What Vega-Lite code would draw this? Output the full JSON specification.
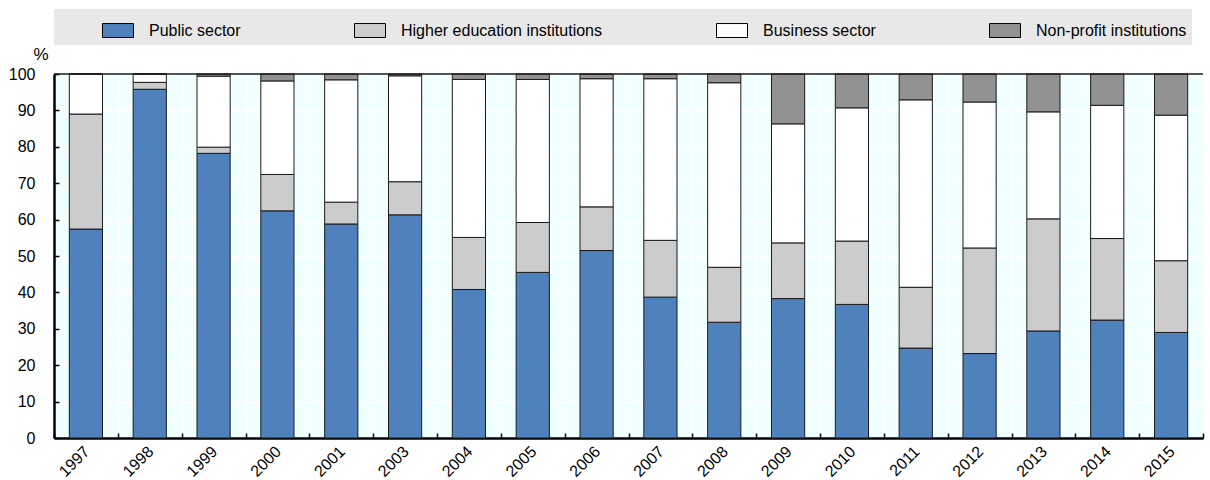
{
  "$schema": "https://vega.github.io/schema/vega-lite/v6.json",
  "autosize": "none",
  "width": 1149,
  "height": 364,
  "padding": {"left": 54, "top": 74, "right": 7, "bottom": 42},
  "background": "#ffffff",
  "config": {
    "font": "Liberation Sans, Arial, sans-serif",
    "view": {"stroke": null, "fill": "#f0ffff"},
    "axis": {
      "labelFont": "Liberation Sans, Arial, sans-serif",
      "labelFontSize": 16,
      "labelColor": "#000000",
      "titleFont": "Liberation Sans, Arial, sans-serif",
      "titleFontSize": 17,
      "titleFontWeight": "normal",
      "titleColor": "#000000",
      "domainColor": "#000000",
      "domainWidth": 2,
      "tickColor": "#000000",
      "tickWidth": 1.5,
      "gridColor": "#ffffff",
      "gridWidth": 1.5,
      "gridOpacity": 1
    },
    "legend": {
      "labelFont": "Liberation Sans, Arial, sans-serif",
      "labelFontSize": 16,
      "labelColor": "#000000",
      "titleFontSize": 16
    }
  },
  "data": {
    "values": [
      {"year": "1997", "sector": "Public sector", "value": 57.4, "k": 1},
      {"year": "1997", "sector": "Higher education institutions", "value": 31.6, "k": 2},
      {"year": "1997", "sector": "Business sector", "value": 11.0, "k": 3},
      {"year": "1997", "sector": "Non-profit institutions", "value": 0.0, "k": 4},
      {"year": "1998", "sector": "Public sector", "value": 95.8, "k": 1},
      {"year": "1998", "sector": "Higher education institutions", "value": 1.9, "k": 2},
      {"year": "1998", "sector": "Business sector", "value": 2.3, "k": 3},
      {"year": "1998", "sector": "Non-profit institutions", "value": 0.0, "k": 4},
      {"year": "1999", "sector": "Public sector", "value": 78.2, "k": 1},
      {"year": "1999", "sector": "Higher education institutions", "value": 1.7, "k": 2},
      {"year": "1999", "sector": "Business sector", "value": 19.5, "k": 3},
      {"year": "1999", "sector": "Non-profit institutions", "value": 0.6, "k": 4},
      {"year": "2000", "sector": "Public sector", "value": 62.4, "k": 1},
      {"year": "2000", "sector": "Higher education institutions", "value": 10.0, "k": 2},
      {"year": "2000", "sector": "Business sector", "value": 25.7, "k": 3},
      {"year": "2000", "sector": "Non-profit institutions", "value": 1.9, "k": 4},
      {"year": "2001", "sector": "Public sector", "value": 58.8, "k": 1},
      {"year": "2001", "sector": "Higher education institutions", "value": 6.0, "k": 2},
      {"year": "2001", "sector": "Business sector", "value": 33.6, "k": 3},
      {"year": "2001", "sector": "Non-profit institutions", "value": 1.6, "k": 4},
      {"year": "2003", "sector": "Public sector", "value": 61.3, "k": 1},
      {"year": "2003", "sector": "Higher education institutions", "value": 9.1, "k": 2},
      {"year": "2003", "sector": "Business sector", "value": 29.1, "k": 3},
      {"year": "2003", "sector": "Non-profit institutions", "value": 0.5, "k": 4},
      {"year": "2004", "sector": "Public sector", "value": 40.8, "k": 1},
      {"year": "2004", "sector": "Higher education institutions", "value": 14.3, "k": 2},
      {"year": "2004", "sector": "Business sector", "value": 43.4, "k": 3},
      {"year": "2004", "sector": "Non-profit institutions", "value": 1.5, "k": 4},
      {"year": "2005", "sector": "Public sector", "value": 45.5, "k": 1},
      {"year": "2005", "sector": "Higher education institutions", "value": 13.7, "k": 2},
      {"year": "2005", "sector": "Business sector", "value": 39.3, "k": 3},
      {"year": "2005", "sector": "Non-profit institutions", "value": 1.5, "k": 4},
      {"year": "2006", "sector": "Public sector", "value": 51.5, "k": 1},
      {"year": "2006", "sector": "Higher education institutions", "value": 12.0, "k": 2},
      {"year": "2006", "sector": "Business sector", "value": 35.2, "k": 3},
      {"year": "2006", "sector": "Non-profit institutions", "value": 1.3, "k": 4},
      {"year": "2007", "sector": "Public sector", "value": 38.7, "k": 1},
      {"year": "2007", "sector": "Higher education institutions", "value": 15.6, "k": 2},
      {"year": "2007", "sector": "Business sector", "value": 44.4, "k": 3},
      {"year": "2007", "sector": "Non-profit institutions", "value": 1.3, "k": 4},
      {"year": "2008", "sector": "Public sector", "value": 31.8, "k": 1},
      {"year": "2008", "sector": "Higher education institutions", "value": 15.1, "k": 2},
      {"year": "2008", "sector": "Business sector", "value": 50.7, "k": 3},
      {"year": "2008", "sector": "Non-profit institutions", "value": 2.4, "k": 4},
      {"year": "2009", "sector": "Public sector", "value": 38.3, "k": 1},
      {"year": "2009", "sector": "Higher education institutions", "value": 15.3, "k": 2},
      {"year": "2009", "sector": "Business sector", "value": 32.7, "k": 3},
      {"year": "2009", "sector": "Non-profit institutions", "value": 13.7, "k": 4},
      {"year": "2010", "sector": "Public sector", "value": 36.7, "k": 1},
      {"year": "2010", "sector": "Higher education institutions", "value": 17.4, "k": 2},
      {"year": "2010", "sector": "Business sector", "value": 36.6, "k": 3},
      {"year": "2010", "sector": "Non-profit institutions", "value": 9.3, "k": 4},
      {"year": "2011", "sector": "Public sector", "value": 24.7, "k": 1},
      {"year": "2011", "sector": "Higher education institutions", "value": 16.7, "k": 2},
      {"year": "2011", "sector": "Business sector", "value": 51.5, "k": 3},
      {"year": "2011", "sector": "Non-profit institutions", "value": 7.1, "k": 4},
      {"year": "2012", "sector": "Public sector", "value": 23.2, "k": 1},
      {"year": "2012", "sector": "Higher education institutions", "value": 29.0, "k": 2},
      {"year": "2012", "sector": "Business sector", "value": 40.1, "k": 3},
      {"year": "2012", "sector": "Non-profit institutions", "value": 7.7, "k": 4},
      {"year": "2013", "sector": "Public sector", "value": 29.4, "k": 1},
      {"year": "2013", "sector": "Higher education institutions", "value": 30.8, "k": 2},
      {"year": "2013", "sector": "Business sector", "value": 29.4, "k": 3},
      {"year": "2013", "sector": "Non-profit institutions", "value": 10.4, "k": 4},
      {"year": "2014", "sector": "Public sector", "value": 32.4, "k": 1},
      {"year": "2014", "sector": "Higher education institutions", "value": 22.4, "k": 2},
      {"year": "2014", "sector": "Business sector", "value": 36.6, "k": 3},
      {"year": "2014", "sector": "Non-profit institutions", "value": 8.6, "k": 4},
      {"year": "2015", "sector": "Public sector", "value": 29.0, "k": 1},
      {"year": "2015", "sector": "Higher education institutions", "value": 19.7, "k": 2},
      {"year": "2015", "sector": "Business sector", "value": 40.0, "k": 3},
      {"year": "2015", "sector": "Non-profit institutions", "value": 11.3, "k": 4}
    ]
  },
  "layer": [
    {
      "mark": {"type": "bar", "width": {"band": 0.52}, "stroke": "#1a1a1a", "strokeWidth": 1},
      "encoding": {
        "x": {
          "field": "year",
          "type": "nominal",
          "sort": null,
          "scale": {"paddingInner": 0, "paddingOuter": 0},
          "axis": {
            "title": null,
            "labelAngle": -45,
            "labelAlign": "right",
            "labelBaseline": "top",
            "labelFontSize": 16,
            "labelPadding": 10,
            "labelOffset": -5,
            "tickBand": "extent",
            "tickSize": -5,
            "grid": true,
            "domainWidth": 2.5
          }
        },
        "y": {
          "field": "value",
          "type": "quantitative",
          "stack": "zero",
          "scale": {"domain": [0, 100], "nice": false},
          "axis": {
            "title": "%",
            "titleAngle": 0,
            "titleAlign": "right",
            "titleBaseline": "alphabetic",
            "titleX": -6,
            "titleY": -15,
            "values": [0, 10, 20, 30, 40, 50, 60, 70, 80, 90, 100],
            "labelOverlap": false,
            "labelFlush": false,
            "tickSize": -5,
            "labelPadding": 24,
            "grid": true,
            "domainWidth": 2.5
          }
        },
        "color": {
          "field": "sector",
          "type": "nominal",
          "scale": {
            "domain": ["Public sector", "Higher education institutions", "Business sector", "Non-profit institutions"],
            "range": ["#4f81bd", "#cccccc", "#ffffff", "#929292"]
          },
          "legend": {
            "orient": "none",
            "legendX": 0,
            "legendY": -65,
            "direction": "horizontal",
            "columns": 4,
            "fillColor": "#e8e8e8",
            "padding": 5.5,
            "title": "\u00a0",
            "titleOrient": "left",
            "titlePadding": 42.5,
            "symbolType": "M-1,-0.45L1,-0.45L1,0.45L-1,0.45Z",
            "symbolSize": 961,
            "symbolStrokeColor": "#000000",
            "symbolStrokeWidth": 1,
            "symbolOpacity": 1,
            "labelOffset": 15,
            "labelLimit": 0,
            "columnPadding": 111
          }
        },
        "order": {"field": "k", "type": "quantitative", "sort": "ascending"}
      }
    },
    {
      "data": {"values": [{"level": 100}]},
      "mark": {"type": "rule", "color": "#1a1a1a", "strokeWidth": 1.5},
      "encoding": {
        "y": {
          "field": "level",
          "type": "quantitative",
          "axis": {
            "title": "%",
            "titleAngle": 0,
            "titleAlign": "right",
            "titleBaseline": "alphabetic",
            "titleX": -6,
            "titleY": -15,
            "values": [0, 10, 20, 30, 40, 50, 60, 70, 80, 90, 100],
            "labelOverlap": false,
            "labelFlush": false,
            "tickSize": -5,
            "labelPadding": 24,
            "grid": true,
            "domainWidth": 2.5
          }
        }
      }
    }
  ]
}
